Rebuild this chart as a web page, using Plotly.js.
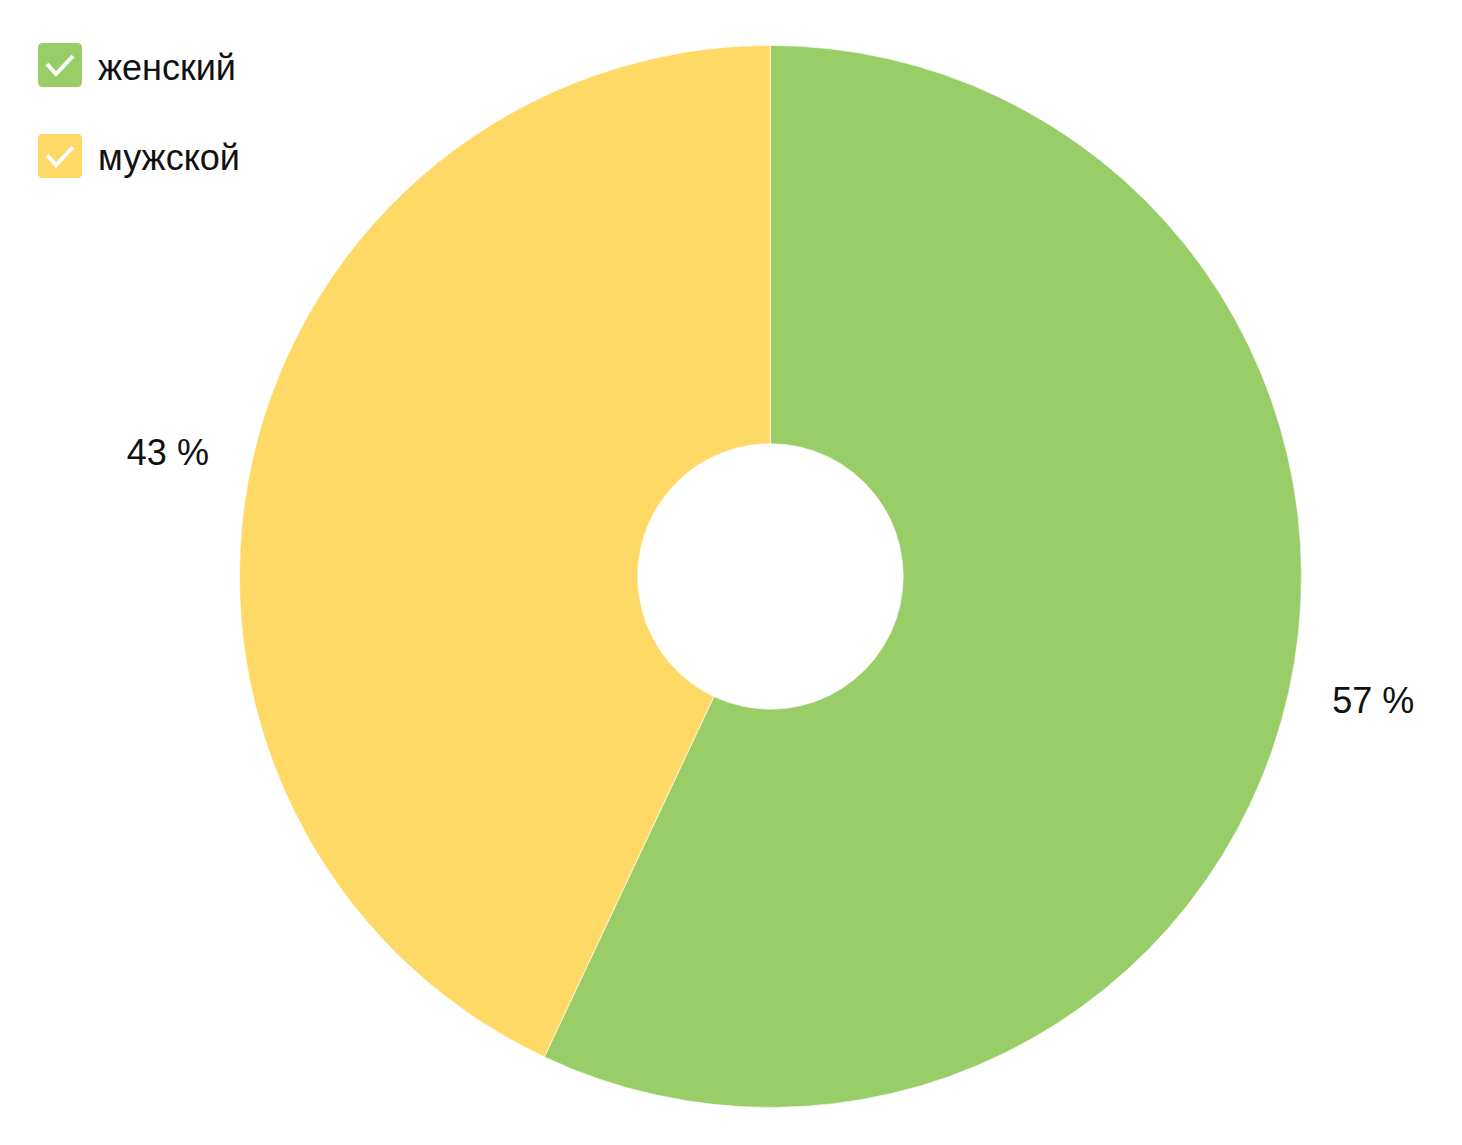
<!DOCTYPE html>
<html>
<head>
<meta charset="utf-8">
<script src="https://cdn.plot.ly/plotly-3.0.1.min.js"></script>
<style>
  html, body { margin: 0; padding: 0; background: #ffffff; }
  #chart { width: 1462px; height: 1145px; }
</style>
</head>
<body>
<div id="chart"></div>
<script>
// Data
const labels = ["женский", "мужской"];
const values = [57, 43];
const colors = ["#99CD67", "#FED966"];

const W = 1462, H = 1145;
const FONT = "Liberation Sans, Arial, sans-serif";

// visible donut
const trace = {
  type: "pie",
  labels: labels,
  values: values,
  sort: false,
  direction: "clockwise",
  rotation: 0,
  hole: 0.25,
  marker: { colors: colors, line: { color: "#ffffff", width: 0.6 } },
  textinfo: "none",
  hoverinfo: "label+percent",
  showlegend: false,
  domain: { x: [0.1638, 0.8902], y: [0.0328, 0.9603] }
};

// slightly larger transparent copy that only carries the outside percentage labels
const labelTrace = {
  type: "pie",
  labels: labels,
  values: values,
  sort: false,
  direction: "clockwise",
  rotation: 0,
  marker: { colors: labels.map(() => "rgba(0,0,0,0)"), line: { width: 0 } },
  texttemplate: "%{value} %",
  textposition: "outside",
  textfont: { family: FONT, size: 36, color: "#111111" },
  hoverinfo: "skip",
  showlegend: false,
  domain: { x: [0.1406, 0.9135], y: [0.0031, 0.9900] }
};

// custom legend: rounded squares with check marks + labels
const shapes = [];
const annotations = [];
const boxPath = "M-17,-22 H17 Q22,-22 22,-17 V17 Q22,22 17,22 H-17 Q-22,22 -22,17 V-17 Q-22,-22 -17,-22 Z";
const checkPath = "M-13,1 L-4,-9 L13,9";
labels.forEach((lab, i) => {
  const cy = 65 + 91 * i;
  const common = {
    xref: "paper", yref: "paper",
    xsizemode: "pixel", ysizemode: "pixel",
    xanchor: 60 / W, yanchor: 1 - cy / H
  };
  shapes.push(Object.assign({}, common, {
    type: "path", path: boxPath,
    fillcolor: colors[i], line: { width: 0 }
  }));
  shapes.push(Object.assign({}, common, {
    type: "path", path: checkPath,
    line: { color: "#ffffff", width: 4 }
  }));
  annotations.push({
    xref: "paper", yref: "paper",
    x: 96 / W, y: 1 - (cy + 2) / H,
    xanchor: "left", yanchor: "middle",
    text: lab, showarrow: false,
    font: { family: FONT, size: 36, color: "#111111" }
  });
});

const layout = {
  width: W, height: H,
  margin: { l: 0, r: 0, t: 0, b: 0 },
  paper_bgcolor: "#ffffff",
  plot_bgcolor: "#ffffff",
  showlegend: false,
  shapes: shapes,
  annotations: annotations,
  font: { family: FONT }
};

Plotly.newPlot("chart", [trace, labelTrace], layout, { displayModeBar: false, staticPlot: true });
</script>
</body>
</html>
